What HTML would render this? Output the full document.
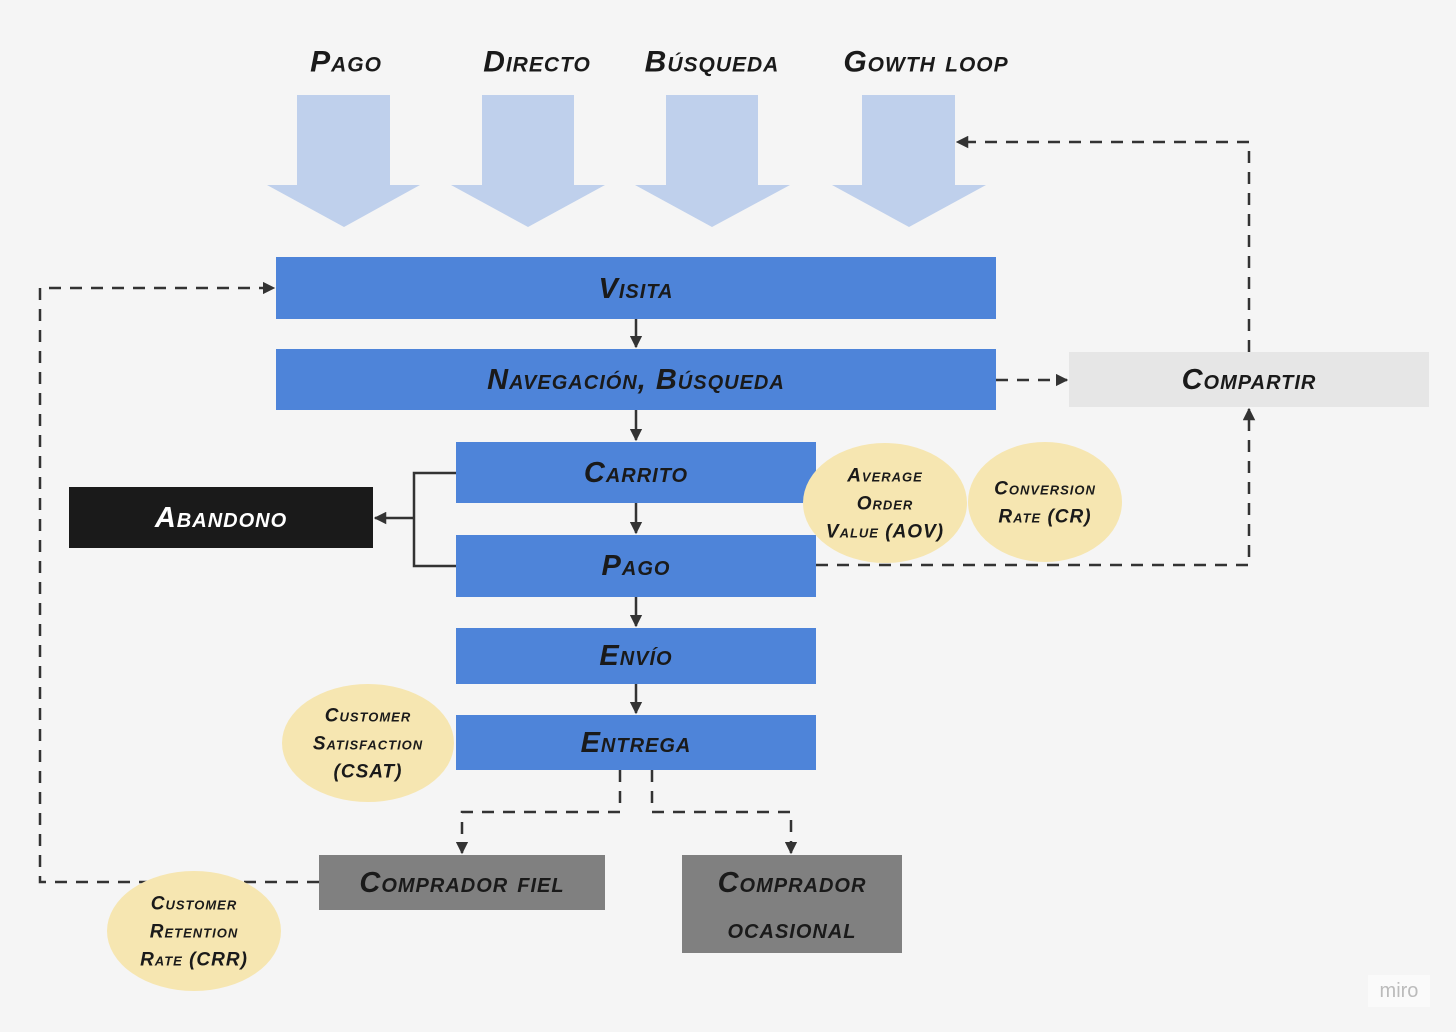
<!DOCTYPE html>
<html><head><meta charset="utf-8"><style>
html,body{margin:0;padding:0;background:#f5f5f5}
svg{display:block}
text{font-family:"Liberation Sans",sans-serif;font-weight:bold;font-style:italic;font-variant:small-caps;text-anchor:middle;dominant-baseline:central;fill:#1a1a1a;letter-spacing:1px}
</style></head><body>
<svg width="1456" height="1032" viewBox="0 0 1456 1032" xmlns="http://www.w3.org/2000/svg">
<defs>
<marker id="a" viewBox="0 0 10 10" refX="9" refY="5" markerWidth="5" markerHeight="5" orient="auto-start-reverse"><path d="M0,0 L10,5 L0,10 Z" fill="#333"/></marker>
</defs>
<rect width="1456" height="1032" fill="#f5f5f5"/>
<g font-size="30">
<text x="346" y="62">Pago</text>
<text x="537" y="62">Directo</text>
<text x="712" y="62">Búsqueda</text>
<text x="926" y="62">Gowth loop</text>
</g>
<g fill="#bfd0ec">
<path d="M297,95H390V185H420L344,227L267,185H297Z"/>
<path d="M482,95H574V185H605L528,227L451,185H482Z"/>
<path d="M666,95H758V185H790L712,227L635,185H666Z"/>
<path d="M862,95H955V185H986L909,227L832,185H862Z"/>
</g>
<g fill="#4e84d9">
<rect x="276" y="257" width="720" height="62"/>
<rect x="276" y="349" width="720" height="61"/>
<rect x="456" y="442" width="360" height="61"/>
<rect x="456" y="535" width="360" height="62"/>
<rect x="456" y="628" width="360" height="56"/>
<rect x="456" y="715" width="360" height="55"/>
</g>
<rect x="69" y="487" width="304" height="61" fill="#1a1a1a"/>
<rect x="1069" y="352" width="360" height="55" fill="#e6e6e6"/>
<rect x="319" y="855" width="286" height="55" fill="#808080"/>
<rect x="682" y="855" width="220" height="98" fill="#808080"/>
<g stroke="#333" stroke-width="2.5" fill="none">
<line x1="636" y1="319" x2="636" y2="347" marker-end="url(#a)"/>
<line x1="636" y1="410" x2="636" y2="440" marker-end="url(#a)"/>
<line x1="636" y1="503" x2="636" y2="533" marker-end="url(#a)"/>
<line x1="636" y1="597" x2="636" y2="626" marker-end="url(#a)"/>
<line x1="636" y1="684" x2="636" y2="713" marker-end="url(#a)"/>
<path d="M456,473H414V566H456"/>
<line x1="414" y1="518" x2="375" y2="518" marker-end="url(#a)"/>
</g>
<g stroke="#333" stroke-width="2.5" fill="none" stroke-dasharray="12,9">
<path d="M319,882H40V288H274" marker-end="url(#a)"/>
<path d="M1249,352V142H957" marker-end="url(#a)"/>
<path d="M816,565H1249V409" marker-end="url(#a)"/>
<path d="M996,380H1067" marker-end="url(#a)"/>
<path d="M620,770V812H462V853" marker-end="url(#a)"/>
<path d="M652,770V812H791V853" marker-end="url(#a)"/>
</g>
<g fill="#f6e6b1">
<ellipse cx="885" cy="503" rx="82" ry="60"/>
<ellipse cx="1045" cy="502" rx="77" ry="60"/>
<ellipse cx="368" cy="743" rx="86" ry="59"/>
<ellipse cx="194" cy="931" rx="87" ry="60"/>
</g>
<g font-size="29">
<text x="636" y="289">Visita</text>
<text x="636" y="380">Navegación, Búsqueda</text>
<text x="636" y="473">Carrito</text>
<text x="636" y="566">Pago</text>
<text x="636" y="656">Envío</text>
<text x="636" y="743">Entrega</text>
<text x="221" y="518" style="fill:#fff">Abandono</text>
<text x="1249" y="380">Compartir</text>
<text x="462" y="883">Comprador fiel</text>
<text x="792" y="883">Comprador</text>
<text x="792" y="929">ocasional</text>
</g>
<g font-size="19">
<text x="885" y="476">Average</text>
<text x="885" y="504">Order</text>
<text x="885" y="532">Value (AOV)</text>
<text x="1045" y="489">Conversion</text>
<text x="1045" y="517">Rate (CR)</text>
<text x="368" y="716">Customer</text>
<text x="368" y="744">Satisfaction</text>
<text x="368" y="772">(CSAT)</text>
<text x="194" y="904">Customer</text>
<text x="194" y="932">Retention</text>
<text x="194" y="960">Rate (CRR)</text>
</g>
<rect x="1368" y="975" width="62" height="32" fill="#fafafa"/>
<text x="1399" y="991" style="font-style:normal;font-weight:normal;font-variant:normal;fill:#bbb;font-size:20px;letter-spacing:0">miro</text>
</svg>
</body></html>
